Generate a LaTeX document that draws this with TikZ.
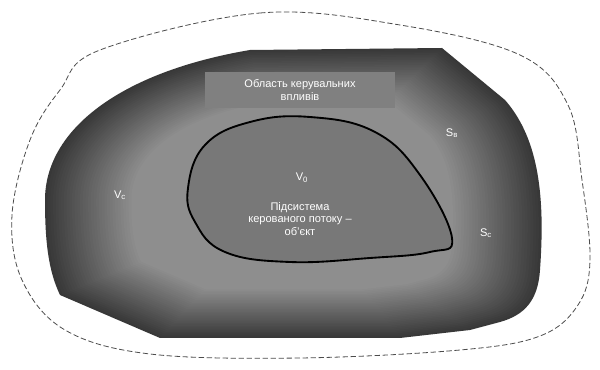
\documentclass[tikz,border=0pt]{standalone}
\usepackage{fontspec}
\setmainfont{Liberation Sans}
\usepackage{xcolor}
\usetikzlibrary{positioning}
% dark zone outline (pixel units, y down)
\newcommand{\zonepath}{(45,200) .. controls (45,130) and (120,72) .. (250,50) -- (442,48) -- (505,100)
  .. controls (540,140) and (545,200) .. (540,270) .. controls (538,300) and (525,315) .. (500,322)
  -- (470,330) -- (400,338) -- (160,338) -- (60,295) .. controls (48,270) and (45,240) .. cycle}
\begin{document}
\begin{tikzpicture}[
  x=0.75pt, y=-0.75pt,
  lbl/.style={text=white, font=\fontsize{8.3}{9.5}\selectfont, align=center, inner sep=1pt},
  boundary/.style={draw=black!70, line width=0.6pt, dash pattern=on 4pt off 2pt},
  object/.style={draw=black, line width=1.4pt, fill=black!53},
  banner/.style={fill=black!50, minimum width=142.5pt, minimum height=27pt, inner sep=0pt},
]
  \useasboundingbox[fill=white] (0,0) rectangle (600,370);

  % outer system boundary
  \draw[boundary] plot[smooth cycle, tension=0.6] coordinates {(100,50) (260,13) (400,25) (520,55) (568,105)
    (582,180) (590,260) (578,305) (540,336) (460,350) (300,358) (150,354) (65,330) (22,280) (12,215) (30,140) (60,90)};

  % shaded zone, dark at the rim
  \foreach \i in {0,...,32}{
    \pgfmathsetmacro{\s}{1-0.011*\i}
    \pgfmathsetmacro{\c}{78-1.05*\i}
    \fill[black!\c, shift={(290,200)}, scale=\s, shift={(-290,-200)}] \zonepath;
  }

  \node[banner] (top) at (300,90) {};
  \node[lbl] (toptext) at (top) {Область керувальних\\впливів};

  % controlled object
  \draw[object] plot[smooth cycle, tension=0.7] coordinates {(188,188) (205,145) (250,122) (310,117) (375,132)
    (420,175) (452,238) (430,252) (370,258) (290,262) (225,252) (195,222)};

  \node[lbl] (vo) at (302,178) {V\textsubscript{0}};
  \node[lbl] (obj) at (300,219) {Підсистема\\керованого потоку –\\об'єкт};
  \node[lbl] (vc) at (120,195) {V\textsubscript{с}};
  \node[lbl] (sv) at (452,133) {S\textsubscript{в}};
  \node[lbl] (sc) at (486,233) {S\textsubscript{с}};
\end{tikzpicture}
\end{document}
